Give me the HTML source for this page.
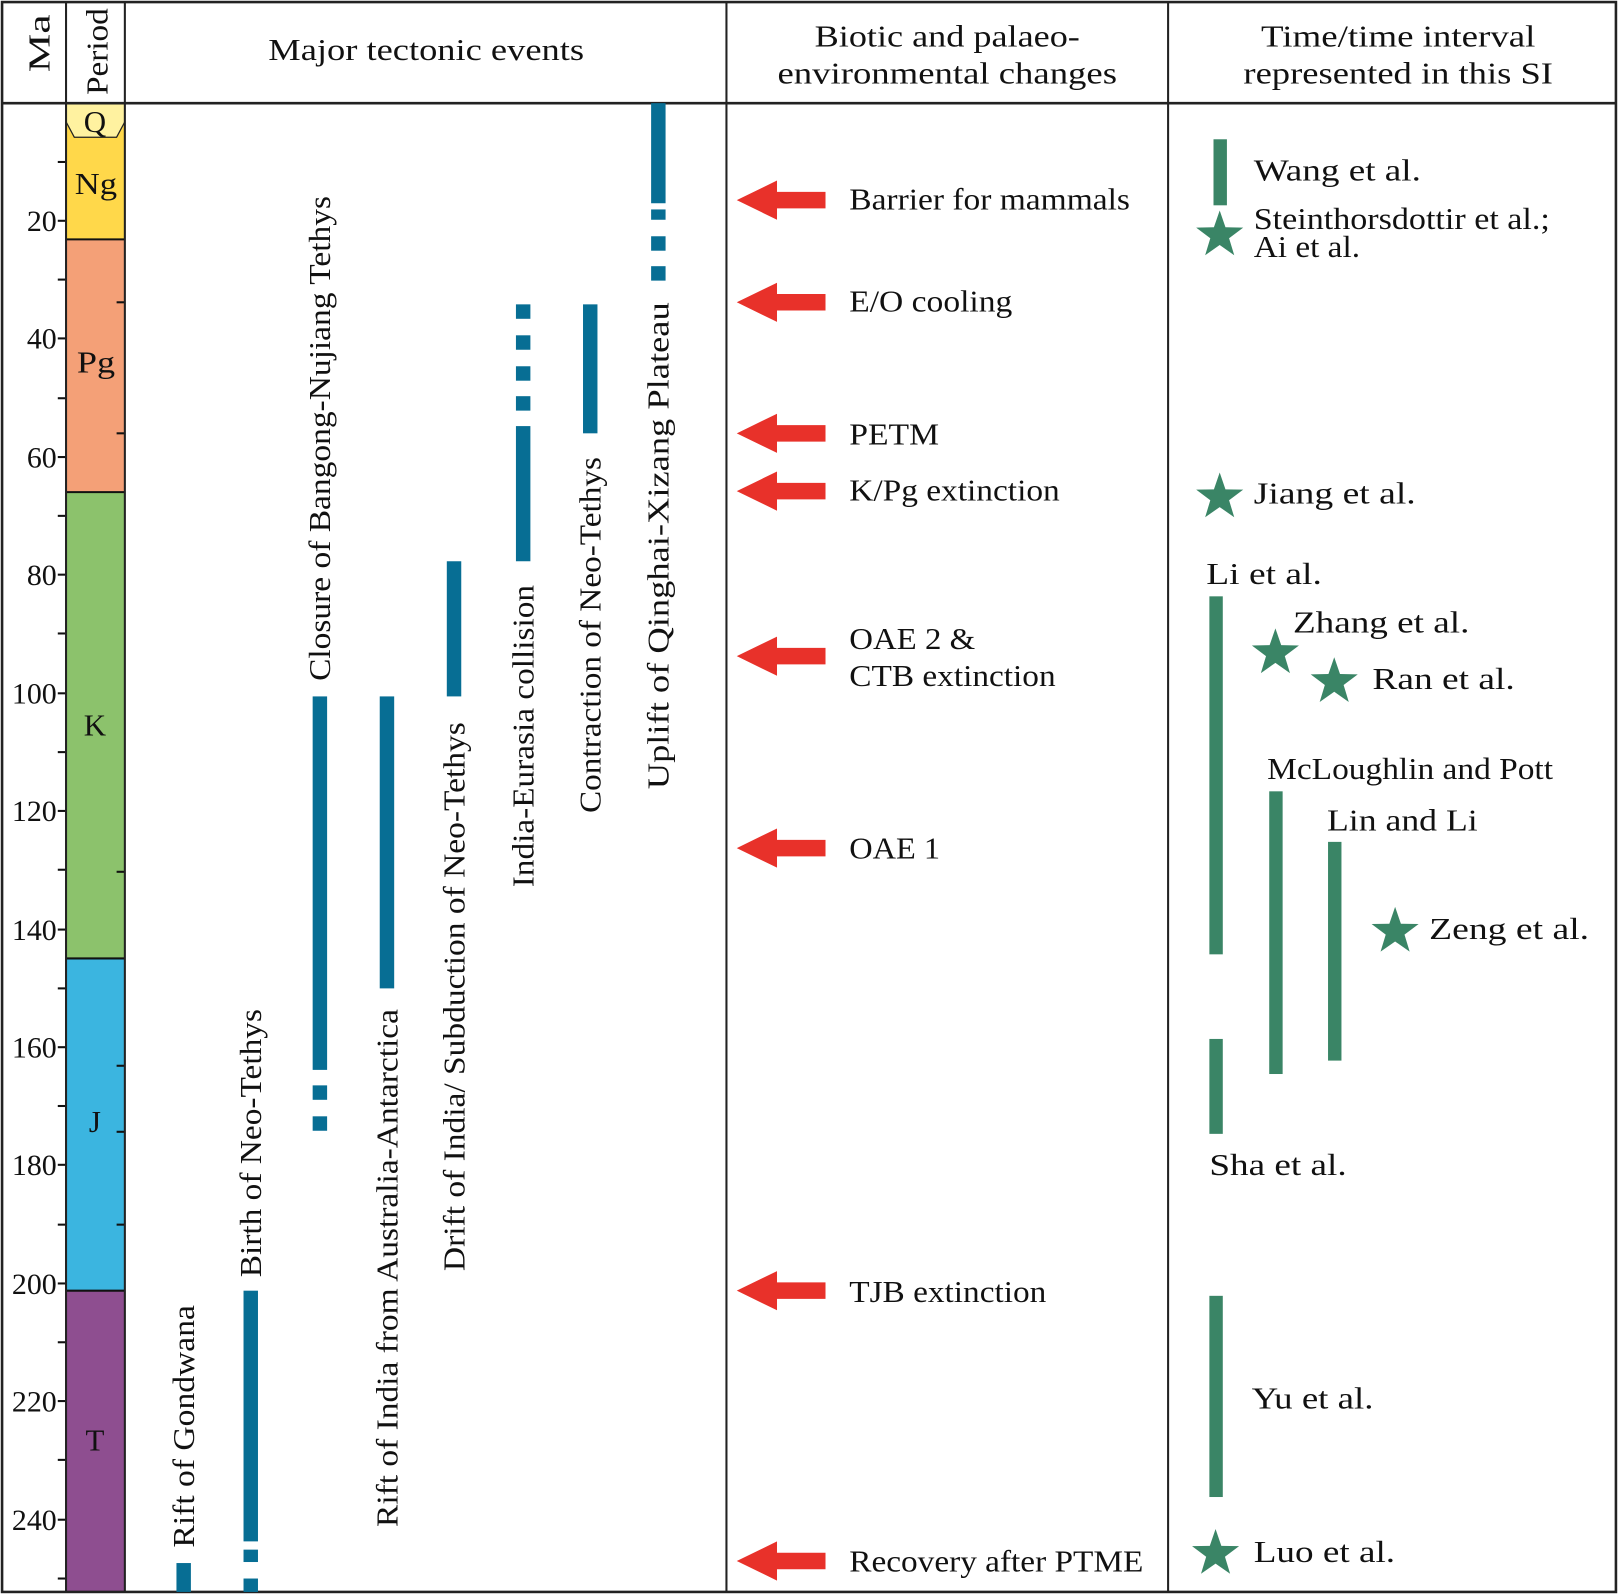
<!DOCTYPE html>
<html><head><meta charset="utf-8"><style>html,body{margin:0;padding:0;background:#fff}svg{display:block}</style></head><body>
<svg width="1618" height="1594" viewBox="0 0 1568 1545" preserveAspectRatio="none" xmlns="http://www.w3.org/2000/svg" font-family="'Liberation Serif', serif" fill="#111">
<rect x="64" y="100" width="57" height="132" fill="#FFD84A"/>
<polygon points="64,100 121,100 121,118 113,133 72,133 64,118" fill="#FFF2A0" stroke="#222" stroke-width="1.2"/>
<rect x="64" y="232" width="57" height="245" fill="#F4A077"/>
<rect x="64" y="477" width="57" height="452" fill="#8CC26C"/>
<rect x="64" y="929" width="57" height="322" fill="#3BB5E0"/>
<rect x="64" y="1251" width="57" height="292" fill="#8E4E90"/>
<g stroke="#111" stroke-width="2">
<line x1="64" y1="232" x2="121" y2="232"/><line x1="64" y1="477" x2="121" y2="477"/><line x1="64" y1="929" x2="121" y2="929"/><line x1="64" y1="1251" x2="121" y2="1251"/>
</g>
<g font-size="30" text-anchor="middle">
<text x="92" y="128">Q</text><text x="93" y="188" textLength="41" lengthAdjust="spacingAndGlyphs">Ng</text><text x="93" y="361" textLength="37" lengthAdjust="spacingAndGlyphs">Pg</text><text x="92" y="713">K</text><text x="92" y="1097">J</text><text x="92" y="1406">T</text>
</g>
<g stroke="#111" stroke-width="2">
<line x1="56" y1="214" x2="64" y2="214"/><line x1="56" y1="328" x2="64" y2="328"/><line x1="56" y1="443" x2="64" y2="443"/><line x1="56" y1="557" x2="64" y2="557"/><line x1="56" y1="672" x2="64" y2="672"/><line x1="56" y1="786" x2="64" y2="786"/><line x1="56" y1="901" x2="64" y2="901"/><line x1="56" y1="1015" x2="64" y2="1015"/><line x1="56" y1="1129" x2="64" y2="1129"/><line x1="56" y1="1244" x2="64" y2="1244"/><line x1="56" y1="1358" x2="64" y2="1358"/><line x1="56" y1="1473" x2="64" y2="1473"/>
<line x1="56" y1="157" x2="64" y2="157"/><line x1="56" y1="271" x2="64" y2="271"/><line x1="56" y1="386" x2="64" y2="386"/><line x1="56" y1="500" x2="64" y2="500"/><line x1="56" y1="614" x2="64" y2="614"/><line x1="56" y1="729" x2="64" y2="729"/><line x1="56" y1="843" x2="64" y2="843"/><line x1="56" y1="958" x2="64" y2="958"/><line x1="56" y1="1072" x2="64" y2="1072"/><line x1="56" y1="1187" x2="64" y2="1187"/><line x1="56" y1="1301" x2="64" y2="1301"/><line x1="56" y1="1415" x2="64" y2="1415"/><line x1="56" y1="1530" x2="64" y2="1530"/>
<line x1="113" y1="293" x2="121" y2="293"/><line x1="113" y1="420" x2="121" y2="420"/><line x1="113" y1="845" x2="121" y2="845"/><line x1="113" y1="1033" x2="121" y2="1033"/><line x1="113" y1="1097" x2="121" y2="1097"/><line x1="113" y1="1187" x2="121" y2="1187"/>
</g>
<g font-size="29" text-anchor="end">
<text x="55" y="224">20</text><text x="55" y="338">40</text><text x="55" y="453">60</text><text x="55" y="567">80</text><text x="55" y="682">100</text><text x="55" y="796">120</text><text x="55" y="911">140</text><text x="55" y="1025">160</text><text x="55" y="1139">180</text><text x="55" y="1254">200</text><text x="55" y="1368">220</text><text x="55" y="1483">240</text>
</g>
<g stroke="#222" fill="none">
<rect x="2" y="2" width="1564" height="1541" stroke-width="2.5"/>
<line x1="2" y1="100" x2="1566" y2="100" stroke-width="2.5"/>
<line x1="64" y1="2" x2="64" y2="1543" stroke-width="2"/>
<line x1="121" y1="2" x2="121" y2="1543" stroke-width="2"/>
<line x1="704" y1="2" x2="704" y2="1543" stroke-width="2"/>
<line x1="1132" y1="2" x2="1132" y2="1543" stroke-width="2"/>
</g>
<text transform="translate(48,42) rotate(-90)" font-size="30" text-anchor="middle" textLength="56" lengthAdjust="spacingAndGlyphs">Ma</text>
<text transform="translate(104,50) rotate(-90)" font-size="30" text-anchor="middle" textLength="84" lengthAdjust="spacingAndGlyphs">Period</text>
<g font-size="30" text-anchor="middle">
<text x="413" y="58" textLength="306" lengthAdjust="spacingAndGlyphs">Major tectonic events</text>
<text x="918" y="45" textLength="257" lengthAdjust="spacingAndGlyphs">Biotic and palaeo-</text>
<text x="918" y="81" textLength="329" lengthAdjust="spacingAndGlyphs">environmental changes</text>
<text x="1355" y="45" textLength="266" lengthAdjust="spacingAndGlyphs">Time/time interval</text>
<text x="1355" y="81" textLength="300" lengthAdjust="spacingAndGlyphs">represented in this SI</text>
</g>
<g fill="#076E94">
<rect x="171" y="1515" width="14" height="28"/>
<rect x="236" y="1251" width="14" height="243"/><rect x="236" y="1502" width="14" height="12"/><rect x="236" y="1530" width="14" height="13"/>
<rect x="303" y="675" width="14" height="362"/><rect x="303" y="1052" width="14" height="14"/><rect x="303" y="1082" width="14" height="14"/>
<rect x="368" y="675" width="14" height="283"/>
<rect x="433" y="544" width="14" height="131"/>
<rect x="500" y="413" width="14" height="131"/><rect x="500" y="295" width="14" height="14"/><rect x="500" y="325" width="14" height="14"/><rect x="500" y="355" width="14" height="14"/><rect x="500" y="384" width="14" height="14"/>
<rect x="565" y="295" width="14" height="125"/>
<rect x="631" y="100" width="14" height="97"/><rect x="631" y="203" width="14" height="10"/><rect x="631" y="229" width="14" height="14"/><rect x="631" y="258" width="14" height="14"/>
</g>
<g font-size="30">
<text transform="translate(188,1500) rotate(-90)" textLength="235" lengthAdjust="spacingAndGlyphs">Rift of Gondwana</text>
<text transform="translate(253,1238) rotate(-90)" textLength="260" lengthAdjust="spacingAndGlyphs">Birth of Neo-Tethys</text>
<text transform="translate(320,660) rotate(-90)" textLength="470" lengthAdjust="spacingAndGlyphs">Closure of Bangong-Nujiang Tethys</text>
<text transform="translate(385,1480) rotate(-90)" textLength="502" lengthAdjust="spacingAndGlyphs">Rift of India from Australia-Antarctica</text>
<text transform="translate(450,1232) rotate(-90)" textLength="532" lengthAdjust="spacingAndGlyphs">Drift of India/ Subduction of Neo-Tethys</text>
<text transform="translate(517,860) rotate(-90)" textLength="293" lengthAdjust="spacingAndGlyphs">India-Eurasia collision</text>
<text transform="translate(582,788) rotate(-90)" textLength="345" lengthAdjust="spacingAndGlyphs">Contraction of Neo-Tethys</text>
<text transform="translate(648,765) rotate(-90)" textLength="472" lengthAdjust="spacingAndGlyphs">Uplift of Qinghai-Xizang Plateau</text>
</g>
<g fill="#E8312A">
<polygon transform="translate(0,194)" points="714,0 753,-19 753,-8 800,-8 800,8 753,8 753,19"/>
<polygon transform="translate(0,293)" points="714,0 753,-19 753,-8 800,-8 800,8 753,8 753,19"/>
<polygon transform="translate(0,420)" points="714,0 753,-19 753,-8 800,-8 800,8 753,8 753,19"/>
<polygon transform="translate(0,476)" points="714,0 753,-19 753,-8 800,-8 800,8 753,8 753,19"/>
<polygon transform="translate(0,636)" points="714,0 753,-19 753,-8 800,-8 800,8 753,8 753,19"/>
<polygon transform="translate(0,822)" points="714,0 753,-19 753,-8 800,-8 800,8 753,8 753,19"/>
<polygon transform="translate(0,1251)" points="714,0 753,-19 753,-8 800,-8 800,8 753,8 753,19"/>
<polygon transform="translate(0,1513)" points="714,0 753,-19 753,-8 800,-8 800,8 753,8 753,19"/>
</g>
<g font-size="30" lengthAdjust="spacingAndGlyphs">
<text x="823" y="203" textLength="272" lengthAdjust="spacingAndGlyphs">Barrier for mammals</text>
<text x="823" y="302" textLength="158" lengthAdjust="spacingAndGlyphs">E/O cooling</text>
<text x="823" y="431" textLength="87" lengthAdjust="spacingAndGlyphs">PETM</text>
<text x="823" y="485" textLength="204" lengthAdjust="spacingAndGlyphs">K/Pg extinction</text>
<text x="823" y="629" textLength="122" lengthAdjust="spacingAndGlyphs">OAE 2 &amp;</text>
<text x="823" y="665" textLength="200" lengthAdjust="spacingAndGlyphs">CTB extinction</text>
<text x="823" y="832" textLength="88" lengthAdjust="spacingAndGlyphs">OAE 1</text>
<text x="823" y="1262" textLength="191" lengthAdjust="spacingAndGlyphs">TJB extinction</text>
<text x="823" y="1523" textLength="285" lengthAdjust="spacingAndGlyphs">Recovery after PTME</text>
</g>
<g fill="#3A8566">
<rect x="1176" y="135" width="13" height="64"/>
<rect x="1172" y="578" width="13" height="347"/><rect x="1172" y="1007" width="13" height="92"/>
<rect x="1230" y="767" width="13" height="274"/>
<rect x="1287" y="816" width="13" height="212"/>
<rect x="1172" y="1256" width="13" height="195"/>
<polygon points="0,-24 5.6,-7.7 22.8,-7.4 9.1,2.9 14.1,19.4 0,9.5 -14.1,19.4 -9.1,2.9 -22.8,-7.4 -5.6,-7.7" transform="translate(1182,228)"/>
<polygon points="0,-24 5.6,-7.7 22.8,-7.4 9.1,2.9 14.1,19.4 0,9.5 -14.1,19.4 -9.1,2.9 -22.8,-7.4 -5.6,-7.7" transform="translate(1182,482)"/>
<polygon points="0,-24 5.6,-7.7 22.8,-7.4 9.1,2.9 14.1,19.4 0,9.5 -14.1,19.4 -9.1,2.9 -22.8,-7.4 -5.6,-7.7" transform="translate(1236,633)"/>
<polygon points="0,-24 5.6,-7.7 22.8,-7.4 9.1,2.9 14.1,19.4 0,9.5 -14.1,19.4 -9.1,2.9 -22.8,-7.4 -5.6,-7.7" transform="translate(1293,661)"/>
<polygon points="0,-24 5.6,-7.7 22.8,-7.4 9.1,2.9 14.1,19.4 0,9.5 -14.1,19.4 -9.1,2.9 -22.8,-7.4 -5.6,-7.7" transform="translate(1352,903)"/>
<polygon points="0,-24 5.6,-7.7 22.8,-7.4 9.1,2.9 14.1,19.4 0,9.5 -14.1,19.4 -9.1,2.9 -22.8,-7.4 -5.6,-7.7" transform="translate(1178,1506)"/>
</g>
<g font-size="30">
<text x="1215" y="175" textLength="162" lengthAdjust="spacingAndGlyphs">Wang et al.</text>
<text x="1215" y="222" textLength="287" lengthAdjust="spacingAndGlyphs">Steinthorsdottir et al.;</text>
<text x="1215" y="249" textLength="103" lengthAdjust="spacingAndGlyphs">Ai et al.</text>
<text x="1215" y="488" textLength="157" lengthAdjust="spacingAndGlyphs">Jiang et al.</text>
<text x="1169" y="566" textLength="112" lengthAdjust="spacingAndGlyphs">Li et al.</text>
<text x="1253" y="613" textLength="171" lengthAdjust="spacingAndGlyphs">Zhang et al.</text>
<text x="1330" y="668" textLength="138" lengthAdjust="spacingAndGlyphs">Ran et al.</text>
<text x="1228" y="755" textLength="277" lengthAdjust="spacingAndGlyphs">McLoughlin and Pott</text>
<text x="1286" y="805" textLength="146" lengthAdjust="spacingAndGlyphs">Lin and Li</text>
<text x="1385" y="910" textLength="155" lengthAdjust="spacingAndGlyphs">Zeng et al.</text>
<text x="1172" y="1139" textLength="133" lengthAdjust="spacingAndGlyphs">Sha et al.</text>
<text x="1213" y="1365" textLength="118" lengthAdjust="spacingAndGlyphs">Yu et al.</text>
<text x="1215" y="1514" textLength="137" lengthAdjust="spacingAndGlyphs">Luo et al.</text>
</g>
</svg>
</body></html>
